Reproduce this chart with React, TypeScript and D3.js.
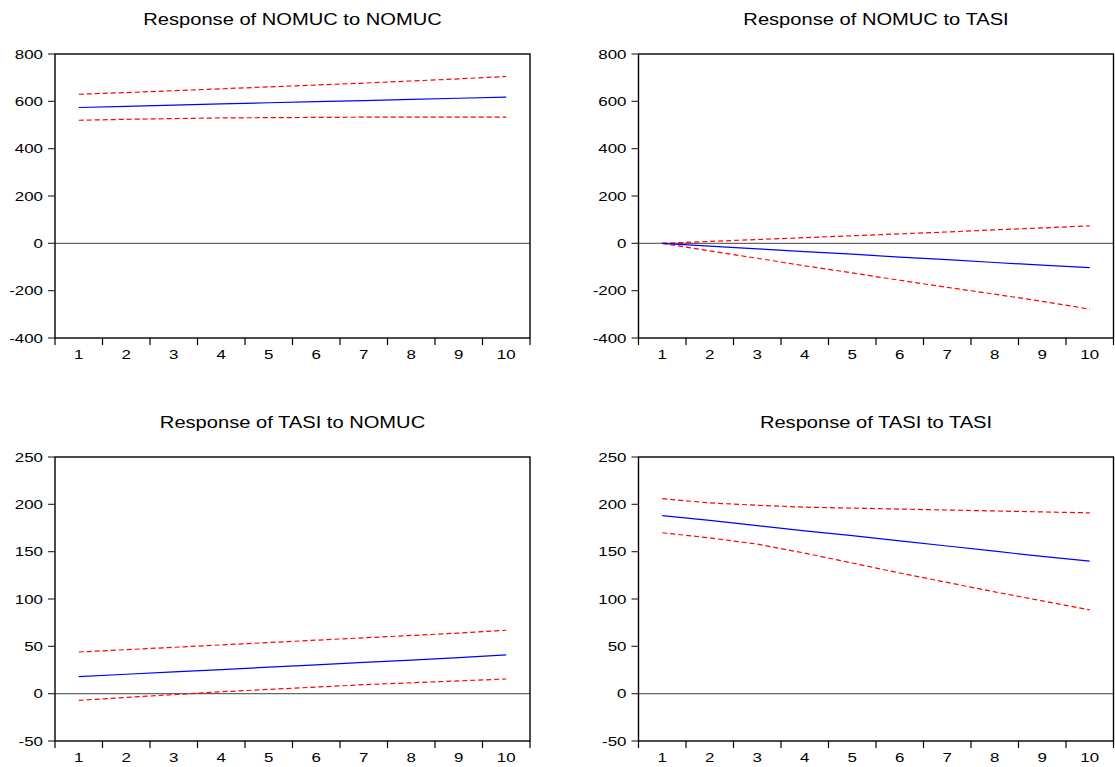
import React from 'react';
import * as d3 from 'd3';

// periods on the x axis
const periods = [1, 2, 3, 4, 5, 6, 7, 8, 9, 10];

// Response of NOMUC to NOMUC
const nomucNomuc = [574, 579, 584, 589, 594, 599, 603, 608, 613, 618];
const nomucNomucUp = [630, 637, 645, 653, 661, 669, 677, 686, 695, 705];
const nomucNomucLo = [520, 524, 527, 530, 531, 532, 533, 533, 533, 533];

// Response of NOMUC to TASI
const nomucTasi = [0, -12, -23, -35, -46, -58, -69, -81, -92, -103];
const nomucTasiUp = [0, 8, 16, 24, 32, 40, 48, 57, 65, 74];
const nomucTasiLo = [0, -32, -63, -95, -125, -156, -186, -215, -245, -278];

// Response of TASI to NOMUC
const tasiNomuc = [18, 20.5, 23, 25.5, 28, 30.5, 33, 35.5, 38, 41];
const tasiNomucUp = [44, 46.5, 49, 51.5, 54, 56.5, 59, 61.5, 64, 67];
const tasiNomucLo = [-7, -4, -1, 2, 4.5, 7, 9.5, 11.5, 13.5, 15.5];

// Response of TASI to TASI
const tasiTasi = [188, 183, 177.5, 172, 167, 161.5, 156, 150.5, 145, 140];
const tasiTasiUp = [206, 201.5, 199, 197, 196, 195, 194, 193, 192, 191];
const tasiTasiLo = [170, 164.5, 158, 148.5, 138, 127.5, 117.5, 107.5, 98, 88.5];

const ticksTop = [-400, -200, 0, 200, 400, 600, 800];
const ticksBottom = [-50, 0, 50, 100, 150, 200, 250];

const panels = [
  { title: 'Response of NOMUC to NOMUC', x: 55, y: 54, ticks: ticksTop, mid: nomucNomuc, up: nomucNomucUp, lo: nomucNomucLo },
  { title: 'Response of NOMUC to TASI', x: 638.5, y: 54, ticks: ticksTop, mid: nomucTasi, up: nomucTasiUp, lo: nomucTasiLo },
  { title: 'Response of TASI to NOMUC', x: 55, y: 457, ticks: ticksBottom, mid: tasiNomuc, up: tasiNomucUp, lo: tasiNomucLo },
  { title: 'Response of TASI to TASI', x: 638.5, y: 457, ticks: ticksBottom, mid: tasiTasi, up: tasiTasiUp, lo: tasiTasiLo },
];

const W = 475;
const H = 284;
const font = '"Liberation Sans", Arial, sans-serif';

function Panel({ p }) {
  const x = d3.scaleBand().domain(periods.map(String)).range([0, W]);
  const y = d3.scaleLinear().domain(d3.extent(p.ticks)).range([H, 0]);
  const cx = (i) => x(String(periods[i])) + x.bandwidth() / 2;
  const line = d3.line().x((d, i) => cx(i)).y((d) => y(d));
  const bounds = d3.range(periods.length + 1).map((i) => i * x.bandwidth());

  return (
    <g transform={`translate(${p.x},${p.y})`}>
      <text
        transform={`translate(${W / 2},-29) scale(1.22,1)`}
        textAnchor="middle"
        fontFamily={font}
        fontSize={16.5}
        fill="#000"
      >
        {p.title}
      </text>
      <line x1={0} x2={W} y1={y(0)} y2={y(0)} stroke="#666" strokeWidth={1.2} />
      <path d={line(p.up)} fill="none" stroke="#ff0000" strokeWidth={1.2} strokeDasharray="5,3" />
      <path d={line(p.lo)} fill="none" stroke="#ff0000" strokeWidth={1.2} strokeDasharray="5,3" />
      <path d={line(p.mid)} fill="none" stroke="#0000ff" strokeWidth={1.2} />
      <rect x={0} y={0} width={W} height={H} fill="none" stroke="#000" strokeWidth={1.4} />
      {p.ticks.map((t) => (
        <g key={t}>
          <line x1={-7} x2={0} y1={y(t)} y2={y(t)} stroke="#333" strokeWidth={1.2} />
          <text
            transform={`translate(-12,${y(t)}) scale(1.3,1)`}
            dy="0.36em"
            textAnchor="end"
            fontFamily={font}
            fontSize={13}
            fill="#000"
          >
            {t}
          </text>
        </g>
      ))}
      {bounds.map((b, i) => (
        <line key={i} x1={b} x2={b} y1={H} y2={H + 7} stroke="#000" strokeWidth={1.2} />
      ))}
      {periods.map((d, i) => (
        <text
          key={d}
          transform={`translate(${cx(i)},${H + 21}) scale(1.3,1)`}
          textAnchor="middle"
          fontFamily={font}
          fontSize={13}
          fill="#000"
        >
          {d}
        </text>
      ))}
    </g>
  );
}

export default function App() {
  return (
    <svg
      width={1115}
      height={767}
      style={{ position: 'absolute', left: 0, top: 0, background: '#fff' }}
    >
      <rect width={1115} height={767} fill="#fff" />
      {panels.map((p) => (
        <Panel key={p.title} p={p} />
      ))}
    </svg>
  );
}
